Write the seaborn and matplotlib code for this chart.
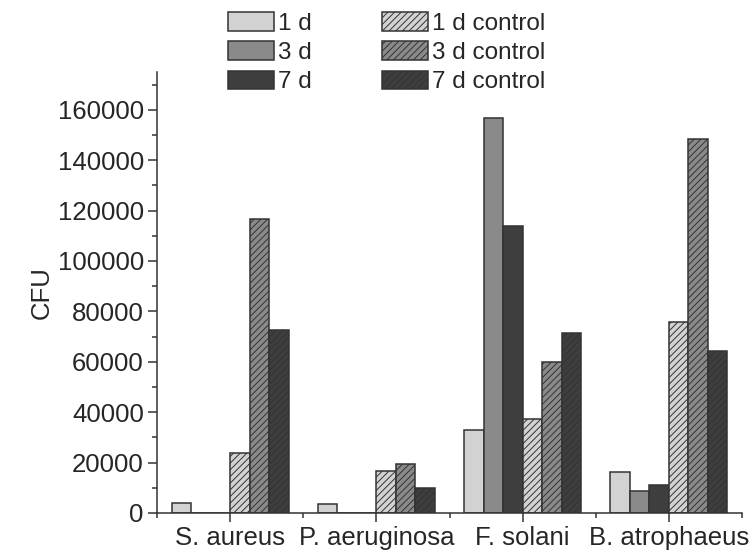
import matplotlib
matplotlib.use("Agg")
import matplotlib.pyplot as plt
from matplotlib.ticker import MultipleLocator, FixedLocator
import seaborn as sns
import pandas as pd

categories = ["S. aureus", "P. aeruginosa", "F. solani", "B. atrophaeus"]
series = ["1 d", "3 d", "7 d", "1 d control", "3 d control", "7 d control"]
v_1d = [3800, 3600, 32800, 16300]
v_3d = [0, 0, 156800, 8700]
v_7d = [0, 0, 113800, 11000]
v_1d_ctrl = [23800, 16700, 37400, 75900]
v_3d_ctrl = [116600, 19600, 60000, 148600]
v_7d_ctrl = [72700, 10000, 71500, 64400]
values = [v_1d, v_3d, v_7d, v_1d_ctrl, v_3d_ctrl, v_7d_ctrl]

rows = []
for s, vals in zip(series, values):
    for c, v in zip(categories, vals):
        rows.append({"category": c, "series": s, "CFU": v})
df = pd.DataFrame(rows)

sns.set_style("ticks")
plt.rcParams["font.family"] = ["Liberation Sans", "DejaVu Sans"]
plt.rcParams["hatch.linewidth"] = 0.7

colors = ["#d2d2d2", "#8a8a8a", "#3e3e3e", "#d2d2d2", "#8a8a8a", "#3e3e3e"]
palette = dict(zip(series, colors))

fig = plt.figure(figsize=(7.49, 5.53), dpi=100)
ax = fig.add_axes([157 / 749, 1 - 513 / 553, (742 - 157) / 749, (513 - 72) / 553])

sns.barplot(data=df, x="category", y="CFU", hue="series", order=categories,
            hue_order=series, palette=palette, width=0.8, saturation=1,
            edgecolor="#333333", linewidth=1.1, legend=False, ax=ax, errorbar=None)

for i, cont in enumerate(ax.containers):
    for p in cont.patches:
        if i >= 3:
            p.set_hatch("/////")
        p.set_edgecolor("#333333")

ax.set_xlim(-0.5, 3.5)
ax.set_ylim(0, 175000)
ax.yaxis.set_major_locator(MultipleLocator(20000))
ax.yaxis.set_minor_locator(MultipleLocator(10000))
ax.xaxis.set_minor_locator(FixedLocator([-0.5, 0.5, 1.5, 2.5, 3.5]))

tc = "#262626"
ax.tick_params(axis="both", which="major", direction="out", length=6.5, width=1.1,
               color="#333333", labelsize=18.5, labelcolor=tc, pad=3)
ax.tick_params(axis="both", which="minor", direction="out", length=3.5, width=1.1,
               color="#333333")
for s in ["top", "right"]:
    ax.spines[s].set_visible(False)
for s in ["left", "bottom"]:
    ax.spines[s].set_linewidth(1.1)
    ax.spines[s].set_color("#333333")

ax.set_xlabel("")
ax.set_ylabel("CFU", fontsize=18.5, color=tc, labelpad=3)

handles = list(ax.containers)
leg = fig.legend(handles, series, ncol=2, loc="upper left",
                 bbox_to_anchor=(228 / 749, 1 - 12 / 553), frameon=False,
                 fontsize=17.5, handlelength=1.9, handleheight=0.8,
                 handletextpad=0.15, columnspacing=2.9, labelspacing=0.27,
                 borderpad=0, borderaxespad=0)
for t in leg.get_texts():
    t.set_color(tc)

fig.savefig("out.png", dpi=100)
